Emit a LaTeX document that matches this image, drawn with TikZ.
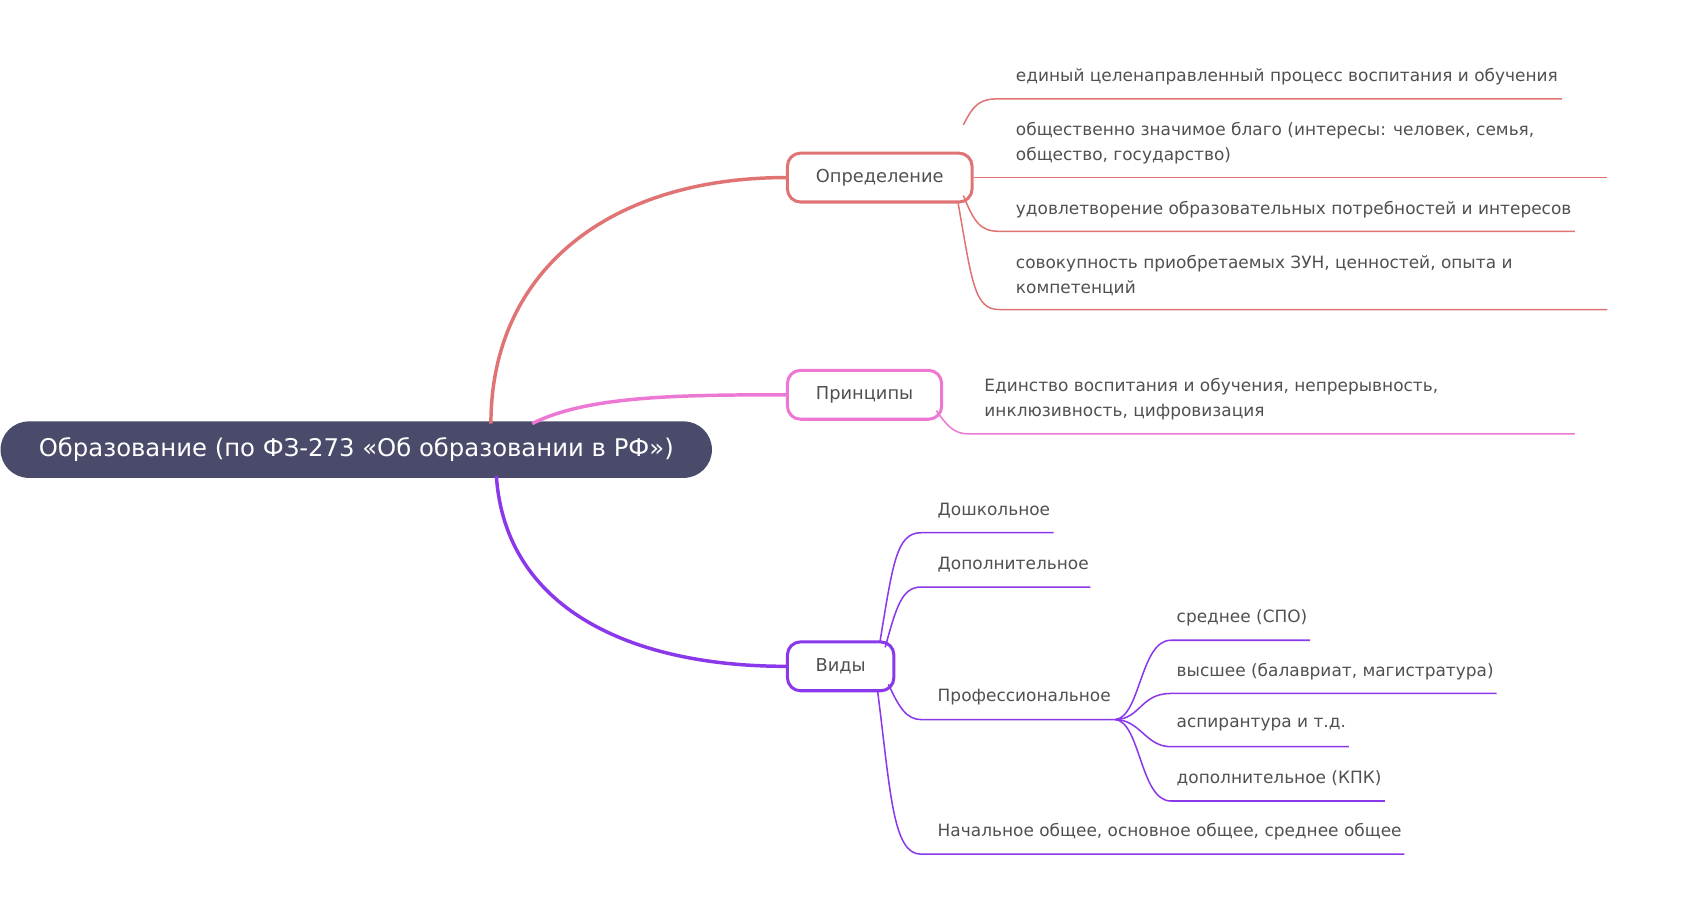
\documentclass[tikz,border=0pt]{standalone}
\usepackage{fontspec}
\setmainfont{DejaVu Sans}
\definecolor{rootc}{HTML}{4A4A6A}
\definecolor{redc}{HTML}{E07474}
\definecolor{pinkc}{HTML}{EC78D4}
\definecolor{purc}{HTML}{8A38EA}
\definecolor{txt}{HTML}{505050}
\begin{document}
\begin{tikzpicture}[x=0.5pt,y=-0.5pt,
  lf/.style={anchor=west,inner sep=0,text=txt,font=\fontsize{7.8}{11.5}\selectfont,align=left},
  bx/.style={draw,line width=1.4pt,rounded corners=6pt,minimum height=22.5pt,inner sep=0,text=txt,font=\fontsize{8.2}{10}\selectfont},
  ln/.style={line width=0.7pt}]
\useasboundingbox (0,0) rectangle (1568,828);
\node[fill=rootc,rounded corners=13pt,minimum width=327.5pt,minimum height=26pt,text=white,font=\fontsize{11.2}{13}\selectfont] (root) at (328,414) {Образование (по ФЗ-273 «Об образовании в РФ»)};
\node[bx,draw=redc,minimum width=85pt] (def) at (810,163.5) {Определение};
\node[bx,draw=pinkc,minimum width=71pt] (pr) at (796,363.5) {Принципы};
\node[bx,draw=purc,minimum width=49pt] (vid) at (774,613.5) {Виды};
\coordinate (r1) at (452,390); \coordinate (r2) at (490,390); \coordinate (r3) at (457,438);
\draw[redc,line width=1.6pt] (r1) .. controls (452,250) and (560,163.5) .. (def.west);
\draw[pinkc,line width=1.6pt] (r2) .. controls (540,365) and (620,363.5) .. (pr.west);
\draw[purc,line width=1.6pt] (r3) .. controls (465,560) and (580,613.5) .. (vid.west);
% definition leaves
\node[lf] (d1) at (935,71) {единый целенаправленный процесс воспитания и обучения};
\node[lf] (d2) at (935,131.5) {общественно значимое благо (интересы: человек, семья,\\общество, государство)};
\node[lf] (d3) at (935,193) {удовлетворение образовательных потребностей и интересов};
\node[lf] (d4) at (935,253.5) {совокупность приобретаемых ЗУН, ценностей, опыта и\\компетенций};
\coordinate (a1) at (887,115); \coordinate (u1) at (920,91); \coordinate (e1) at (1438,91);
\coordinate (e2) at (1480,163.5);
\coordinate (a3) at (887,180); \coordinate (u3) at (920,213); \coordinate (e3) at (1450,213);
\coordinate (a4) at (882,186); \coordinate (u4) at (920,285); \coordinate (e4) at (1480,285);
\draw[redc,ln] (a1) .. controls (897,95) and (903,91) .. (u1) -- (e1);
\draw[redc,ln] (def.east) -- (e2);
\draw[redc,ln] (a3) .. controls (897,205) and (903,213) .. (u3) -- (e3);
\draw[redc,ln] (a4) .. controls (895,260) and (897,285) .. (u4) -- (e4);
% principles leaf
\node[lf] (p1) at (906,367.5) {Единство воспитания и обучения, непрерывность,\\инклюзивность, цифровизация};
\coordinate (a5) at (862,378); \coordinate (u5) at (892,399.5); \coordinate (e5) at (1450,399.5);
\draw[pinkc,ln] (a5) .. controls (872,392) and (878,399.5) .. (u5) -- (e5);
% kinds leaves
\node[lf] (v1) at (863,470) {Дошкольное};
\node[lf] (v2) at (863,520) {Дополнительное};
\node[lf] (v3) at (863,642) {Профессиональное};
\node[lf] (v4) at (863,766) {Начальное общее, основное общее, среднее общее};
\coordinate (b1) at (810,592); \coordinate (w1) at (848,490.5); \coordinate (f1) at (970,490.5);
\coordinate (b2) at (815,596); \coordinate (w2) at (848,540.5); \coordinate (f2) at (1004,540.5);
\coordinate (b3) at (818,630); \coordinate (w3) at (848,662.5); \coordinate (f3) at (1027,662.5);
\coordinate (b4) at (808,636); \coordinate (w4) at (848,786.5); \coordinate (f4) at (1293,786.5);
\draw[purc,ln] (b1) .. controls (822,520) and (825,490.5) .. (w1) -- (f1);
\draw[purc,ln] (b2) .. controls (825,560) and (830,540.5) .. (w2) -- (f2);
\draw[purc,ln] (b3) .. controls (828,652) and (835,662.5) .. (w3) -- (f3);
\draw[purc,ln] (b4) .. controls (820,730) and (822,786.5) .. (w4) -- (f4);
% professional sub-leaves
\node[lf] (s1) at (1083,568.5) {среднее (СПО)};
\node[lf] (s2) at (1083,618) {высшее (балавриат, магистратура)};
\node[lf] (s3) at (1083,667) {аспирантура и т.д.};
\node[lf] (s4) at (1083,717) {дополнительное (КПК)};
\coordinate (g1) at (1078,589.5); \coordinate (h1) at (1206,589.5);
\coordinate (g2) at (1078,638.5); \coordinate (h2) at (1378,638.5);
\coordinate (g3) at (1078,687.5); \coordinate (h3) at (1242,687.5);
\coordinate (g4) at (1078,737.5); \coordinate (h4) at (1275,737.5);
\draw[purc,ln] (f3) .. controls (1050,660) and (1050,589.5) .. (g1) -- (h1);
\draw[purc,ln] (f3) .. controls (1050,662) and (1050,638.5) .. (g2) -- (h2);
\draw[purc,ln] (f3) .. controls (1050,663) and (1055,687.5) .. (g3) -- (h3);
\draw[purc,ln] (f3) .. controls (1050,665) and (1050,737.5) .. (g4) -- (h4);
\end{tikzpicture}
\end{document}
